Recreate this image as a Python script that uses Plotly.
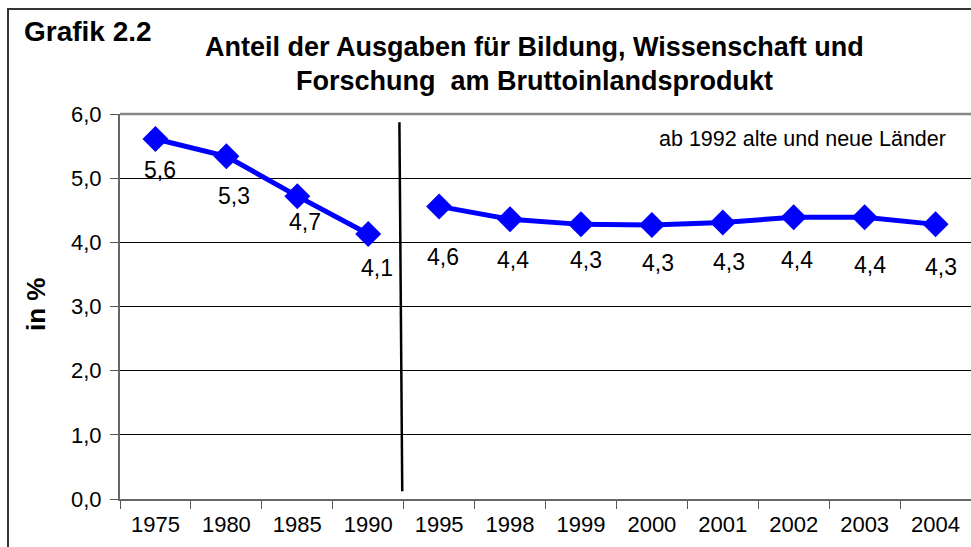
import plotly.graph_objects as go

# ---- data ----
years_west = ["1975", "1980", "1985", "1990"]
values_west = [5.61, 5.34, 4.72, 4.13]
years_all = ["1995", "1998", "1999", "2000", "2001", "2002", "2003", "2004"]
values_all = [4.56, 4.36, 4.28, 4.27, 4.31, 4.39, 4.39, 4.28]
categories = years_west + years_all
y_ticks = [0, 1, 2, 3, 4, 5, 6]

# label offsets (px) relative to each point
label_dx = [5, 8, 8, 9, 4, 3, 5, 6, 6, 3, 5, 5]
label_dy = [31, 40, 26, 34, 51, 41, 36, 38, 40, 43, 48, 43]

W, H = 971, 547
ML, MR, MT, MB = 120, 0, 114, 48
PW, PH = W - ML - MR, H - MT - MB
FONT = "Liberation Sans, Arial, sans-serif"
BLUE = "#0000FF"

fig = go.Figure()
for xs, ys in [(years_west, values_west), (years_all, values_all)]:
    fig.add_trace(go.Scatter(
        x=xs, y=ys, mode="lines+markers",
        line=dict(color=BLUE, width=5),
        marker=dict(symbol="diamond", size=20, color=BLUE),
        showlegend=False, hoverinfo="x+y",
    ))

all_vals = values_west + values_all
for i, v in enumerate(all_vals):
    fig.add_annotation(
        x=i, y=v, text=f"{v:.1f}".replace(".", ","), showarrow=False,
        xshift=label_dx[i], yshift=-label_dy[i],
        font=dict(family=FONT, size=23, color="black"),
    )

# vertical divider between 1990 and 1995 (category index space)
fig.add_shape(type="line", xref="x", yref="y", x0=3.44, y0=5.87, x1=3.48, y1=0.12,
              line=dict(color="black", width=2.5))

# outer frame
def px_x(p):
    return (p - ML) / PW
def px_y(p):
    return (H - MB - p) / PH
fig.add_shape(type="rect", xref="paper", yref="paper",
              x0=px_x(8), x1=px_x(990), y0=px_y(9), y1=px_y(570),
              line=dict(color="#333333", width=2), layer="above")

# texts
fig.add_annotation(xref="paper", yref="paper", x=px_x(22), y=px_y(32), xanchor="left", yanchor="middle",
                   text="<b>Grafik 2.2</b>", showarrow=False,
                   font=dict(family=FONT, size=28, color="black"))
fig.add_annotation(xref="paper", yref="paper", x=px_x(534), y=px_y(47), xanchor="center", yanchor="middle",
                   text="<b>Anteil der Ausgaben für Bildung, Wissenschaft und</b>", showarrow=False,
                   font=dict(family=FONT, size=27, color="black"))
fig.add_annotation(xref="paper", yref="paper", x=px_x(534), y=px_y(81), xanchor="center", yanchor="middle",
                   text="<b>Forschung  am Bruttoinlandsprodukt</b>", showarrow=False,
                   font=dict(family=FONT, size=27, color="black"))
fig.add_annotation(xref="paper", yref="paper", x=px_x(948), y=px_y(139), xanchor="right", yanchor="middle",
                   text="ab 1992 alte und neue Länder", showarrow=False,
                   font=dict(family=FONT, size=21.5, color="black"))
fig.add_annotation(xref="paper", yref="paper", x=px_x(36), y=px_y(305), xanchor="center", yanchor="middle",
                   text="<b>in %</b>", textangle=-90, showarrow=False,
                   font=dict(family=FONT, size=26, color="black"))

fig.update_xaxes(
    type="category", categoryorder="array", categoryarray=categories,
    range=[-0.5, len(categories) - 0.5],
    tickson="boundaries", ticks="outside", ticklen=8, tickcolor="#555555",
    showline=True, linecolor="#666666", linewidth=2,
    showgrid=False, zeroline=False, tickangle=0, ticklabelstandoff=5,
    tickfont=dict(family=FONT, size=22, color="black"),
    fixedrange=True,
)
fig.update_yaxes(
    range=[0, 6], tickvals=y_ticks, tickformat=".1f",
    ticks="outside", ticklen=8, tickcolor="#555555",
    showline=True, linecolor="#666666", linewidth=2,
    showgrid=True, gridcolor="black", gridwidth=1, zeroline=False,
    ticklabelstandoff=4,
    tickfont=dict(family=FONT, size=22, color="black"),
    fixedrange=True,
)
# gray top border of the plot area
fig.add_shape(type="line", xref="paper", yref="paper", x0=0, x1=1, y0=1, y1=1,
              line=dict(color="#888888", width=2.5), layer="above")

fig.update_layout(
    width=W, height=H,
    margin=dict(l=ML, r=MR, t=MT, b=MB),
    paper_bgcolor="white", plot_bgcolor="white",
    separators=",.",
    font=dict(family=FONT, color="black"),
)

fig.write_html(
    "out.html",
    config={"displayModeBar": False},
    post_script="document.body.style.margin='0px'; document.body.style.overflow='hidden';",
)
